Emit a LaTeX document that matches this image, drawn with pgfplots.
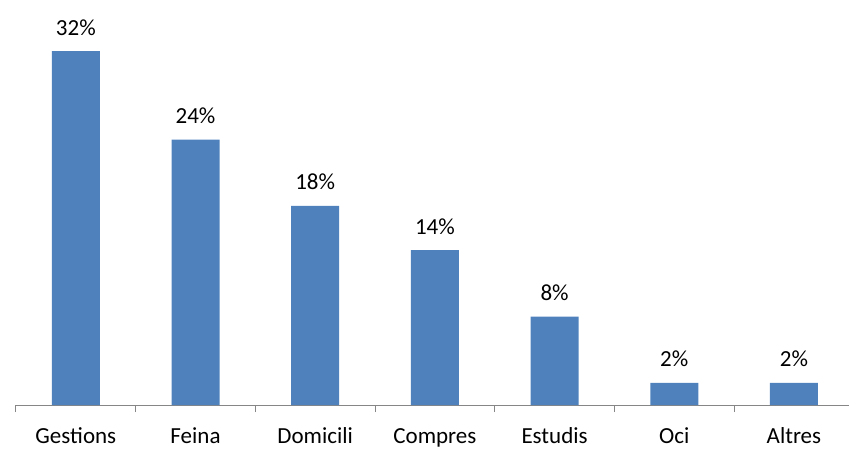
\documentclass[border=0pt]{standalone}
\usepackage{pgfplots}
\pgfplotsset{compat=1.18}
\usepackage{fontspec}
\setmainfont{Carlito}
\definecolor{barblue}{HTML}{4F81BD}
\definecolor{axisgray}{HTML}{868686}
\begin{document}
\fontsize{23}{28}\selectfont
\begin{tikzpicture}
  \begin{axis}[
      scale only axis,
      width=833pt, height=405pt,
      xmin=-0.5, xmax=6.46,
      ymin=0, ymax=36.62,
      axis x line*=bottom,
      hide y axis,
      axis line style={axisgray, line width=1pt},
      xtick={0,1,2,3,4,5,6},
      xticklabels={Gestions,Feina,Domicili,Compres,Estudis,Oci,Altres},
      major tick length=0pt,
      xticklabel style={anchor=base, yshift=-38pt, text=black},
      extra x ticks={-0.5,0.5,1.5,2.5,3.5,4.5,5.5},
      extra x tick labels={},
      extra x tick style={tick align=outside, major tick length=7pt,
        tick style={axisgray, line width=1pt}},
      ybar, bar width=48pt,
      nodes near coords={\pgfmathprintnumber{\pgfplotspointmeta}\%},
      nodes near coords style={anchor=base, yshift=16pt, text=black},
      /pgf/number format/assume math mode=true,
      clip=false,
    ]
    \addplot[fill=barblue, draw=none] coordinates {
      (0,32) (1,24) (2,18) (3,14) (4,8) (5,2) (6,2)};
    \coordinate (tl) at (rel axis cs:0,1);
    \coordinate (br) at (rel axis cs:1,0);
  \end{axis}
  \pgfresetboundingbox
  \path[use as bounding box] ([xshift=-16pt]tl) rectangle ([yshift=-45pt]br);
\end{tikzpicture}
\end{document}
